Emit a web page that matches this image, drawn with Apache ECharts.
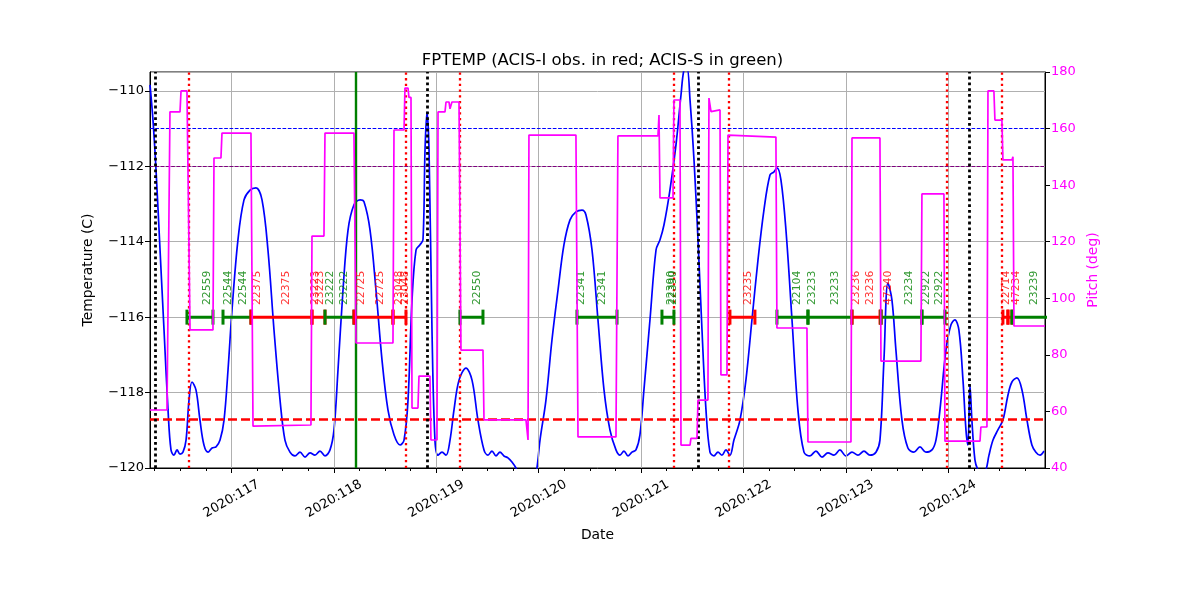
<!DOCTYPE html>
<html><head><meta charset="utf-8">
<script src="https://cdn.jsdelivr.net/npm/echarts@6/dist/echarts.min.js"></script>
<style>html,body{margin:0;padding:0;background:#fff}#c{width:1200px;height:600px}</style>
</head><body><div id="c"></div>
<script>
// ---- temperature (FPTEMP, deg C) vs day of year 2020 ----
const tempDay = [116.204,116.233,116.263,116.302,116.341,116.380,116.409,116.438,116.468,116.497,116.526,116.556,116.585,116.614,116.653,116.692,116.731,116.771,116.810,116.849,116.888,116.927,116.966,117.005,117.063,117.122,117.181,117.239,117.298,117.356,117.415,117.474,117.522,117.571,117.620,117.669,117.718,117.767,117.815,117.864,117.913,117.962,118.001,118.040,118.089,118.138,118.196,118.255,118.294,118.353,118.411,118.470,118.528,118.587,118.646,118.685,118.724,118.763,118.802,118.841,118.870,118.890,118.909,118.929,118.958,118.987,119.017,119.056,119.095,119.134,119.173,119.222,119.290,119.349,119.407,119.466,119.505,119.544,119.583,119.622,119.661,119.700,119.739,119.778,119.817,119.886,119.954,119.983,120.013,120.071,120.130,120.189,120.247,120.306,120.364,120.423,120.462,120.521,120.579,120.638,120.696,120.755,120.794,120.833,120.872,120.911,120.950,120.989,121.028,121.087,121.146,121.185,121.224,121.282,121.341,121.390,121.419,121.448,121.478,121.517,121.556,121.595,121.634,121.673,121.712,121.751,121.790,121.829,121.868,121.907,121.966,122.024,122.083,122.142,122.200,122.259,122.298,122.327,122.366,122.415,122.474,122.532,122.591,122.649,122.708,122.767,122.825,122.884,122.942,123.001,123.060,123.118,123.177,123.235,123.294,123.333,123.372,123.411,123.450,123.489,123.548,123.606,123.665,123.724,123.782,123.841,123.880,123.919,123.978,124.026,124.065,124.104,124.144,124.173,124.192,124.212,124.231,124.261,124.290,124.329,124.368,124.398,124.437,124.485,124.534,124.583,124.622,124.671,124.720,124.769,124.817,124.856,124.896,124.935];
const tempVal = [-109.84,-110.77,-112.10,-114.22,-116.34,-118.46,-119.52,-119.66,-119.52,-119.63,-119.58,-119.26,-118.20,-117.72,-117.93,-118.73,-119.39,-119.58,-119.47,-119.44,-119.26,-118.73,-117.40,-115.81,-113.95,-112.89,-112.63,-112.57,-112.89,-114.22,-116.34,-118.20,-119.26,-119.58,-119.68,-119.58,-119.71,-119.60,-119.66,-119.55,-119.68,-119.52,-118.99,-117.40,-115.28,-113.69,-113.02,-112.89,-112.94,-113.69,-115.28,-117.14,-118.46,-119.12,-119.39,-119.26,-118.20,-115.54,-114.22,-114.08,-113.95,-111.56,-110.56,-111.56,-116.34,-119.26,-119.66,-119.58,-119.66,-119.26,-118.46,-117.67,-117.35,-117.67,-118.73,-119.52,-119.66,-119.55,-119.68,-119.58,-119.68,-119.73,-119.84,-120.00,-120.27,-120.45,-120.32,-120.00,-119.26,-118.20,-116.60,-115.28,-114.08,-113.42,-113.21,-113.16,-113.29,-114.22,-116.07,-117.93,-118.99,-119.52,-119.66,-119.55,-119.68,-119.58,-119.52,-119.12,-117.93,-116.07,-114.22,-113.95,-113.55,-112.63,-111.43,-110.11,-109.44,-109.39,-110.24,-111.83,-113.95,-116.34,-118.46,-119.58,-119.68,-119.58,-119.66,-119.52,-119.66,-119.26,-118.73,-117.67,-116.07,-114.48,-113.16,-112.23,-112.15,-112.04,-112.36,-113.69,-116.07,-118.46,-119.58,-119.68,-119.55,-119.71,-119.60,-119.66,-119.52,-119.68,-119.58,-119.66,-119.55,-119.66,-119.58,-119.26,-117.14,-115.09,-115.54,-116.87,-118.73,-119.47,-119.58,-119.44,-119.58,-119.52,-119.26,-118.46,-116.87,-116.21,-116.07,-116.34,-117.67,-118.99,-119.39,-117.80,-118.73,-119.79,-120.05,-120.19,-120.05,-119.66,-119.26,-118.99,-118.73,-118.07,-117.72,-117.61,-117.93,-118.73,-119.39,-119.58,-119.66,-119.55];

// ---- pitch (deg) ----
const pitchDay = [116.204,116.370,116.399,116.497,116.507,116.565,116.595,116.819,116.829,116.897,116.907,117.190,117.210,117.776,117.786,117.903,117.913,118.196,118.216,118.577,118.587,118.685,118.694,118.724,118.733,118.753,118.763,118.821,118.831,118.938,118.948,119.007,119.017,119.085,119.095,119.124,119.134,119.153,119.222,119.241,119.456,119.466,119.876,119.896,119.905,120.364,120.384,120.755,120.774,121.165,121.175,121.185,121.312,121.321,121.380,121.390,121.478,121.487,121.546,121.556,121.653,121.663,121.683,121.692,121.771,121.780,121.839,121.849,122.317,122.327,122.620,122.630,123.050,123.060,123.333,123.343,123.733,123.743,123.958,123.968,124.310,124.319,124.378,124.388,124.446,124.456,124.524,124.534,124.622,124.632,124.642,124.945];
const pitchVal = [60.5,60.5,165.9,165.9,173.3,173.3,88.8,88.8,149.6,149.6,158.4,158.4,54.8,55.2,122.0,122.0,158.4,158.4,84.2,84.2,159.5,159.5,174.3,174.3,171.0,171.0,61.2,61.2,72.5,72.5,49.9,49.9,165.9,165.9,169.4,169.4,167.0,169.4,169.4,81.7,81.7,57.0,57.0,49.9,157.7,157.7,51.0,51.0,157.4,157.4,164.8,135.5,135.5,170.1,170.1,48.1,48.1,50.5,50.5,64.0,64.0,170.8,166.0,166.6,166.6,72.9,72.9,157.7,157.0,89.5,89.5,49.2,49.2,156.7,156.7,77.8,77.8,136.9,136.9,49.5,49.5,54.5,54.5,173.3,173.3,163.0,163.0,148.9,148.9,150.0,90.2,90.2];

// ---- observations (I = ACIS-I red, S = ACIS-S green) ----
const obsId    = ['22559','22544','22375','23223','23222','22725','23048','22550','22341','22390','23235','22104','23233','23236','47240','23234','22922','22714','47234','23239'];
const obsStart = [116.565,116.917,117.190,117.786,117.913,118.196,118.577,119.231,120.374,121.204,121.868,122.327,122.630,123.060,123.334,123.343,123.743,124.534,124.583,124.622];
const obsStop  = [116.819,117.190,117.786,117.913,118.196,118.577,118.704,119.456,120.765,121.321,122.112,122.630,123.060,123.343,123.343,123.743,123.968,124.583,124.622,125.200];
const obsInst  = ['S','S','I','I','S','I','I','S','S','S','I','S','S','I','I','S','S','I','I','S'];
const obsLevel = -116;

const labelText = ['22559','22544','22544','22375','22375','23223','23223','23222','23222','22725','22725','23048','23048','22550','22341','22341','22390','22390','23235','22104','23233','23233','23236','23236','47240','23234','22922','22922','22714','47234','23239'];
const labelDay  = [116.758,116.969,117.115,117.252,117.532,117.822,117.869,117.962,118.102,118.271,118.450,118.639,118.699,119.395,120.420,120.625,121.297,121.312,122.047,122.520,122.676,122.894,123.105,123.240,123.414,123.619,123.789,123.912,124.570,124.661,124.837];
const labelInst = ['S','S','S','I','I','I','I','S','S','I','I','I','I','S','S','S','S','S','I','S','S','S','I','I','I','S','S','S','I','I','S'];
const labelLevel = -115.68;

// ---- event lines ----
const commDays  = [116.263,118.909,121.556,124.212];
const radDays   = [116.575,118.704,119.231,121.321,121.858,123.987,124.524];
const greenDays = [118.206];
const hLines = [{v:-111, c:'#0000ff', w:1, t:[3.7,1.6]}, {v:-112, c:'#800080', w:1, t:[3.7,1.6]}, {v:-118.7, c:'#ff0000', w:2.6, t:[9,4]}];

// ---- axes ----
const xMin = 116.204, xMax = 124.945;
const dayTicks = [117,118,119,120,121,122,123,124];
const minorTicks = [];
for (let d = 116; d <= 125; d++) { [0.25,0.5,0.75].forEach(f => { const v = d + f; if (v > xMin && v < xMax) minorTicks.push(v); }); }

const RED = '#ff0000', GREEN = '#008000', MAG = '#ff00ff', BLUE = '#0000ff';
const instColor = i => i === 'I' ? RED : GREEN;
const FONT = 'DejaVu Sans';

const chart = echarts.init(document.getElementById('c'));
const series = [];
series.push({type:'line', data:[], silent:true, z:1,
  markLine:{silent:true, symbol:['none','none'], label:{show:false}, animation:false,
    lineStyle:{color:'#b0b0b0', width:1, type:'solid'},
    data: dayTicks.map(d => ({xAxis:d}))}});
series.push({type:'line', name:'FPTEMP', data: tempDay.map((d,i)=>[d,tempVal[i]]), showSymbol:false, symbol:'none',
  smooth:0.35, lineStyle:{color:BLUE, width:1.7}, z:3});
series.push({type:'line', data:[], silent:true, z:4,
  markLine:{silent:true, symbol:['none','none'], label:{show:false}, animation:false,
    data: [
      ...hLines.map(h => ({yAxis:h.v, lineStyle:{color:h.c, width:h.w, type:h.t}})),
      ...commDays.map(d => ({xAxis:d, lineStyle:{color:'#000', width:2.8, type:[2.8,3]}})),
      ...radDays.map(d => ({xAxis:d, lineStyle:{color:RED, width:2.3, type:[2.3,3.4]}})),
      ...greenDays.map(d => ({xAxis:d, lineStyle:{color:GREEN, width:2.4, type:'solid'}}))
    ]}});
obsId.forEach((id,i) => {
  const c = instColor(obsInst[i]);
  series.push({type:'line', data:[[obsStart[i],obsLevel],[obsStop[i],obsLevel]], symbol:'rect', symbolSize:[3,15],
    showSymbol:true, showAllSymbol:true, lineStyle:{color:c, width:3}, itemStyle:{color:c}, z:5, silent:true});
});
series.push({type:'scatter', symbolSize:1, itemStyle:{color:'rgba(0,0,0,0)'}, z:6, silent:true,
  data: labelText.map((t,i)=>({name:t, value:[labelDay[i], labelLevel], label:{color:instColor(labelInst[i])}})),
  label:{show:true, formatter:'{b}', position:'inside', rotate:90, align:'left', verticalAlign:'middle', fontSize:10.8, fontFamily:FONT}});
series.push({type:'line', name:'Pitch', yAxisIndex:1, data: pitchDay.map((d,i)=>[d,pitchVal[i]]), showSymbol:false, symbol:'none',
  lineStyle:{color:MAG, width:1.7}, z:7});

chart.setOption({
  animation:false,
  backgroundColor:'#fff',
  textStyle:{fontFamily:FONT},
  title:{text:'FPTEMP (ACIS-I obs. in red; ACIS-S in green)', left:597.5, textAlign:'center', top:47,
    textStyle:{fontFamily:FONT, fontSize:16.5, fontWeight:'normal', color:'#000'}},
  grid:{left:150, right:155, top:72, bottom:132, show:true, borderColor:'#000', borderWidth:1, backgroundColor:'transparent'},
  xAxis:[
    {type:'value', min:xMin, max:xMax, position:'bottom',
     name:'Date', nameLocation:'middle', nameGap:60, nameTextStyle:{fontFamily:FONT, fontSize:13.9, color:'#000'},
     axisLine:{show:true, lineStyle:{color:'#000', width:1}},
     axisTick:{show:true, customValues:dayTicks, length:5, lineStyle:{color:'#000'}},
     axisLabel:{show:true, customValues:dayTicks, formatter: v => '2020:' + Math.round(v), rotate:30, align:'center', verticalAlign:'middle', margin:31, fontSize:13, color:'#000', fontFamily:FONT},
     splitLine:{show:false}},
    {type:'value', min:xMin, max:xMax, position:'bottom', offset:0,
     axisLine:{show:false}, axisTick:{show:true, customValues:minorTicks, length:3, lineStyle:{color:'#000'}},
     axisLabel:{show:false}, splitLine:{show:false}}
  ],
  yAxis:[
    {type:'value', min:-120, max:-109.5, interval:2, position:'left',
     name:'Temperature (C)', nameLocation:'middle', nameGap:55, nameTextStyle:{fontFamily:FONT, fontSize:13.9, color:'#000'},
     axisLine:{show:true, lineStyle:{color:'#000'}}, axisTick:{show:true, length:5, lineStyle:{color:'#000'}},
     axisLabel:{showMaxLabel:false, formatter: v => String(v).replace('-', '\u2212'), fontSize:13, color:'#000', fontFamily:FONT, margin:6},
     splitLine:{show:true, lineStyle:{color:'#b0b0b0', width:1}}},
    {type:'value', min:40, max:180, interval:20, position:'right',
     name:'Pitch (deg)', nameLocation:'middle', nameRotate:90, nameGap:41, nameTextStyle:{fontFamily:FONT, fontSize:13.9, color:MAG},
     axisLine:{show:true, lineStyle:{color:'#000'}}, axisTick:{show:true, length:5, lineStyle:{color:'#000'}},
     axisLabel:{fontSize:13, color:MAG, fontFamily:FONT, margin:6}, splitLine:{show:false}}
  ],
  series: series
});
</script></body></html>
